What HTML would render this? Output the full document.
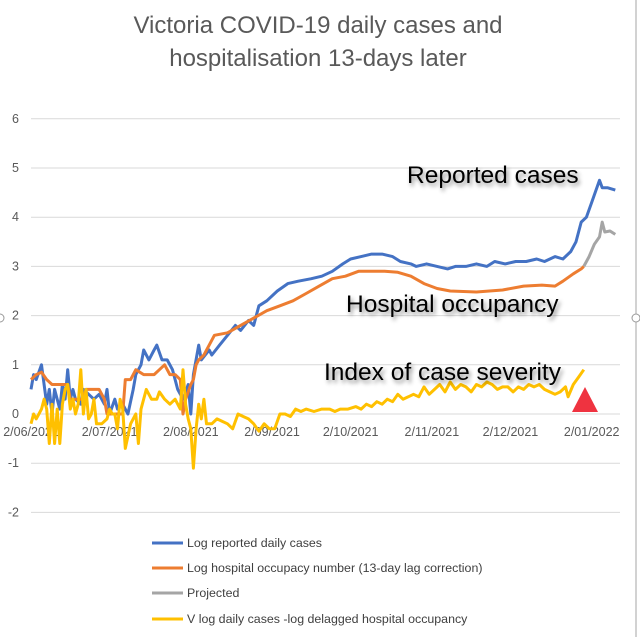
<!DOCTYPE html>
<html><head><meta charset="utf-8"><style>
body{margin:0;background:#fff;}
svg text{font-family:"Liberation Sans",Arial,sans-serif;}
.ann{font-size:24.5px;fill:#000;filter:url(#sh);}
</style></head><body>
<svg width="640" height="637" viewBox="0 0 640 637" xmlns="http://www.w3.org/2000/svg">
<defs><filter id="sh" x="-10%" y="-30%" width="120%" height="180%"><feDropShadow dx="2" dy="3" stdDeviation="2" flood-color="#000" flood-opacity="0.45"/></filter></defs>
<rect width="640" height="637" fill="#fff"/>
<line x1="636" y1="0" x2="636" y2="637" stroke="#a6a6a6" stroke-width="1"/>
<circle cx="636" cy="318" r="4" fill="#fff" stroke="#999"/>
<circle cx="0" cy="318" r="4" fill="#fff" stroke="#999"/>
<text x="318" y="33" text-anchor="middle" font-size="24" fill="#595959">Victoria COVID-19 daily cases and</text>
<text x="318" y="66" text-anchor="middle" font-size="24" fill="#595959">hospitalisation 13-days later</text>
<g id="grid"></g><g id="xlab"></g><g id="series"></g>
<text class="ann" x="407" y="183">Reported cases</text>
<text class="ann" x="346" y="312">Hospital occupancy</text>
<text class="ann" x="324" y="380">Index of case severity</text>
<polygon points="585,387 572,412 598,412" fill="#ef3340"/>
<g>
<line x1="152" y1="543" x2="183" y2="543" stroke="#4472c4" stroke-width="3"/><text x="187" y="547" font-size="12.4" fill="#404040">Log reported daily cases</text>
<line x1="152" y1="568" x2="183" y2="568" stroke="#ed7d31" stroke-width="3"/><text x="187" y="572" font-size="12.4" fill="#404040">Log hospital occupacy number (13-day lag correction)</text>
<line x1="152" y1="593" x2="183" y2="593" stroke="#a5a5a5" stroke-width="3"/><text x="187" y="597" font-size="12.4" fill="#404040">Projected</text>
<line x1="152" y1="619" x2="183" y2="619" stroke="#ffc000" stroke-width="3"/><text x="187" y="623" font-size="12.4" fill="#404040">V log daily cases -log delagged hospital occupancy</text>
</g>
</svg>
<script>
const yTicks=[6,5,4,3,2,1,0,-1,-2];
const xTickDays=[0,30,61,92,122,153,183,214];
const xTickLabels=["2/06/2021","2/07/2021","2/08/2021","2/09/2021","2/10/2021","2/11/2021","2/12/2021","2/01/2022"];
const casesDays=[0,1,2,4,5,6,7,8,9,11,12,13,14,15,16,17,19,20,22,24,26,28,29,30,32,33,35,37,39,40,42,43,45,47,48,50,52,54,56,58,60,61,62,64,65,68,69,72,75,78,80,83,85,87,90,94,98,102,107,111,115,119,122,126,130,134,138,141,145,147,151,155,159,162,166,170,174,177,181,185,189,193,196,200,203,206,208,210,212,214,217,218,220,223];
const casesVals=[0.5,0.8,0.7,1.0,0.6,0.2,0.5,0,0.5,0.1,0.6,0.3,0.9,0.3,0.5,0.3,0.2,0.5,0.4,0.3,0.4,0.2,0.5,0,0.3,0.1,0.2,0,0.5,0.8,1.0,1.3,1.1,1.3,1.4,1.1,1.1,0.9,0.5,0.3,0.6,0,0.8,1.4,1.1,1.3,1.2,1.4,1.6,1.8,1.7,1.9,1.8,2.2,2.3,2.5,2.65,2.7,2.75,2.8,2.9,3.05,3.15,3.2,3.25,3.25,3.2,3.1,3.05,3.0,3.05,3.0,2.95,3.0,3.0,3.05,3.0,3.1,3.05,3.1,3.1,3.15,3.1,3.2,3.15,3.3,3.5,3.9,4.0,4.3,4.75,4.6,4.6,4.55];
const hospDays=[0,2,4,6,8,14,15,20,21,26,28,29,35,36,38,40,43,47,49,51,53,55,57,58,59,61,62,63,64,66,68,70,75,80,85,90,95,100,105,110,115,120,125,135,140,145,150,155,160,170,180,188,195,200,203,207,210,211];
const hospVals=[0.7,0.8,0.85,0.7,0.6,0.6,0.3,0.3,0.5,0.5,0.3,0,0,0.7,0.7,0.9,0.8,0.8,0.9,1.0,0.8,0.8,0.7,0,0.3,0.6,0.7,1.0,1.1,1.2,1.4,1.6,1.65,1.8,1.95,2.1,2.2,2.3,2.45,2.6,2.75,2.8,2.9,2.9,2.88,2.8,2.65,2.55,2.5,2.48,2.52,2.6,2.62,2.6,2.7,2.85,2.95,3.0];
const projDays=[211,213,215,217,218,219,221,223];
const projVals=[3.0,3.2,3.45,3.6,3.9,3.7,3.72,3.65];
const sevDays=[0,1,2,3,4,5,6,7,8,9,10,11,12,13,14,15,16,17,18,19,20,21,22,23,24,25,27,29,30,31,32,33,34,35,36,38,40,41,42,44,46,48,49,51,53,55,57,58,59,60,61,62,63,64,65,66,67,69,71,73,75,77,79,81,83,85,87,89,91,93,95,97,99,101,103,105,108,111,114,116,118,121,124,126,128,130,132,134,136,138,140,142,144,146,148,150,152,154,156,158,160,162,164,166,168,170,172,174,176,178,180,182,184,186,188,190,192,194,196,198,200,202,204,205,207,209,211];
const sevVals=[-0.2,0,-0.1,0,0.1,0.3,0.1,-0.6,0.2,-0.6,0.1,-0.6,0.2,0.5,0.6,0.1,0.3,0,0.2,0.9,0,0.5,-0.1,0,0.3,-0.2,-0.2,-0.1,0.1,0,0,-0.3,0.3,0.1,-0.7,-0.2,0,-0.6,0.1,0.5,0.3,0.3,0.45,0.3,0.2,0.3,0.1,0.9,0.2,-0.1,-0.3,-1.1,-0.3,0.2,-0.1,0.3,-0.2,-0.2,-0.1,-0.15,-0.2,-0.3,0,-0.05,-0.1,-0.2,-0.35,-0.2,-0.3,-0.3,0,0,-0.05,0.1,0.05,0.1,0.05,0.1,0.1,0.05,0.1,0.1,0.15,0.1,0.2,0.15,0.25,0.2,0.3,0.25,0.4,0.3,0.35,0.4,0.35,0.55,0.4,0.5,0.6,0.45,0.65,0.5,0.6,0.55,0.45,0.6,0.55,0.65,0.6,0.5,0.55,0.55,0.45,0.55,0.5,0.6,0.55,0.6,0.5,0.45,0.4,0.45,0.55,0.35,0.6,0.75,0.9];

const NS="http://www.w3.org/2000/svg";
const X=d=>31+d*2.62;
const Y=v=>414-v*49.2;
const grid=document.getElementById('grid');
yTicks.forEach(t=>{
  const l=document.createElementNS(NS,'line');
  
  
  l.setAttribute('x1',31);l.setAttribute('x2',620);l.setAttribute('y1',Y(t));l.setAttribute('y2',Y(t));
  l.setAttribute('stroke','#d9d9d9');l.setAttribute('stroke-width','1');
  grid.appendChild(l);
  const tx=document.createElementNS(NS,'text');
  
  
  tx.setAttribute('x',19);tx.setAttribute('y',Y(t)+4);tx.setAttribute('text-anchor','end');
  tx.setAttribute('font-size','12.5');tx.setAttribute('fill','#595959');
  tx.textContent=t;grid.appendChild(tx);
});
const xl=document.getElementById('xlab');
xTickDays.forEach((d,i)=>{
  const tx=document.createElementNS(NS,'text');
  
  
  tx.setAttribute('x',X(d));tx.setAttribute('y',436);tx.setAttribute('text-anchor','middle');
  tx.setAttribute('font-size','12.5');tx.setAttribute('fill','#595959');
  tx.textContent=xTickLabels[i];xl.appendChild(tx);
});
const sg=document.getElementById('series');
function line(days,vals,color,name){
  const p=document.createElementNS(NS,'polyline');
  
  
  p.setAttribute('points',days.map((d,i)=>X(d).toFixed(1)+','+Y(vals[i]).toFixed(1)).join(' '));
  p.setAttribute('fill','none');p.setAttribute('stroke',color);p.setAttribute('stroke-width','3');
  p.setAttribute('stroke-linejoin','round');
  sg.appendChild(p);
}
line(casesDays,casesVals,'#4472c4','series-reported-cases');
line(projDays,projVals,'#a5a5a5','series-projected');
line(hospDays,hospVals,'#ed7d31','series-hospital-occupancy');
line(sevDays,sevVals,'#ffc000','series-case-severity');
</script>
</body></html>
